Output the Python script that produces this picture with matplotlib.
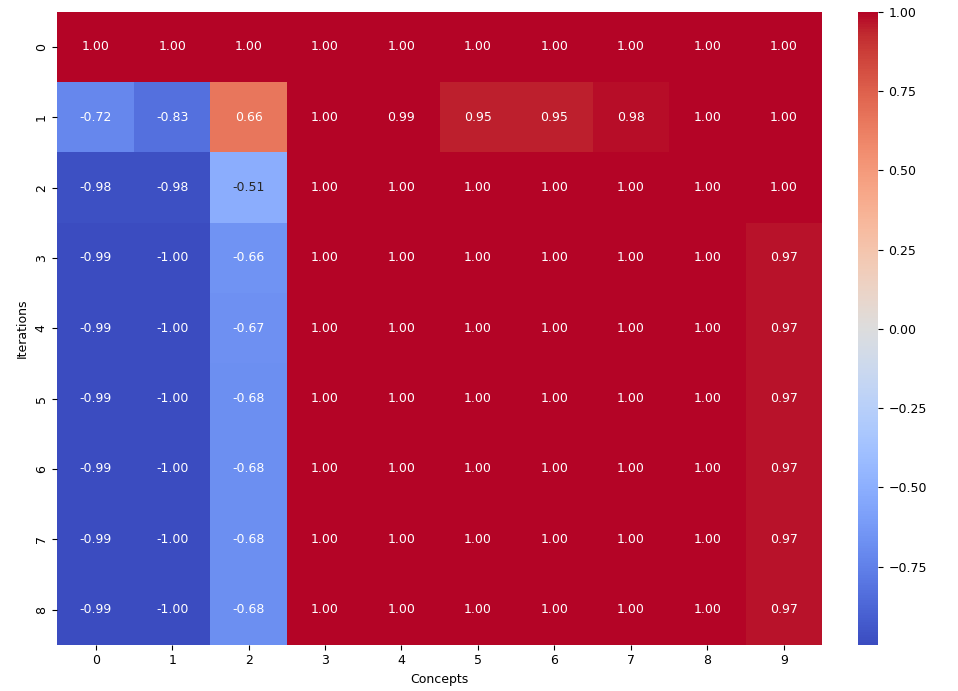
import matplotlib
matplotlib.use("Agg")
import matplotlib.pyplot as plt
import seaborn as sns
import numpy as np

concepts = list(range(10))
iterations = list(range(9))

row0 = [1.00, 1.00, 1.00, 1.00, 1.00, 1.00, 1.00, 1.00, 1.00, 1.00]
row1 = [-0.72, -0.83, 0.66, 1.00, 0.994, 0.95, 0.95, 0.98, 1.00, 1.00]
row2 = [-0.98, -0.98, -0.51, 1.00, 1.00, 1.00, 1.00, 1.00, 1.00, 1.00]
row3 = [-0.99, -0.996, -0.66, 1.00, 1.00, 1.00, 1.00, 1.00, 1.00, 0.97]
row4 = [-0.99, -0.996, -0.67, 1.00, 1.00, 1.00, 1.00, 1.00, 1.00, 0.97]
row5 = [-0.99, -0.996, -0.68, 1.00, 1.00, 1.00, 1.00, 1.00, 1.00, 0.97]
row6 = [-0.99, -0.996, -0.68, 1.00, 1.00, 1.00, 1.00, 1.00, 1.00, 0.97]
row7 = [-0.99, -0.996, -0.68, 1.00, 1.00, 1.00, 1.00, 1.00, 1.00, 0.97]
row8 = [-0.99, -0.996, -0.68, 1.00, 1.00, 1.00, 1.00, 1.00, 1.00, 0.97]

data = np.array([row0, row1, row2, row3, row4, row5, row6, row7, row8])

fig = plt.figure(figsize=(9.58, 6.91), dpi=100)
ax = fig.add_axes([0.060, 0.067, 0.798, 0.916])
cax = fig.add_axes([0.896, 0.067, 0.021, 0.916])

sns.heatmap(data, ax=ax, cbar_ax=cax, cmap="coolwarm", annot=True, fmt=".2f",
            xticklabels=concepts, yticklabels=iterations,
            annot_kws={"fontsize": 9})
ax.set_xlabel("Concepts", fontsize=9)
ax.set_ylabel("Iterations", fontsize=9)
ax.tick_params(labelsize=9)
cax.tick_params(labelsize=9)

fig.savefig("out.png", dpi=100)
